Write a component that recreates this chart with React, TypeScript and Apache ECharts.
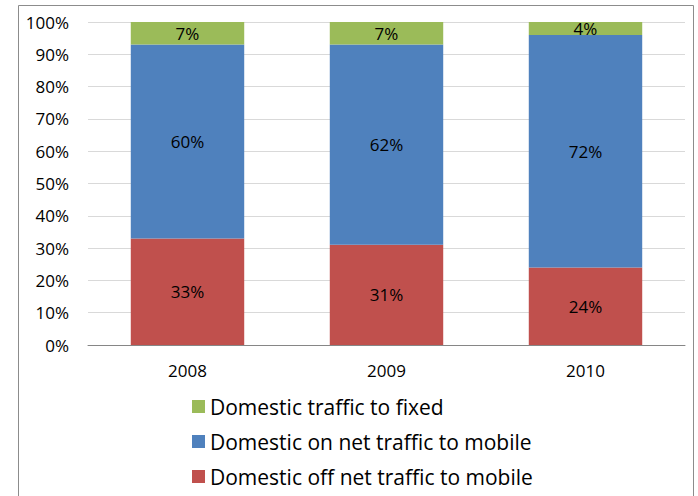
import React, { useEffect, useRef } from "react";
import * as echarts from "echarts";

const categories = ["2008", "2009", "2010"];
const offNetMobile = [33, 31, 24];
const onNetMobile = [60, 62, 72];
const fixedTraffic = [7, 7, 4];
const seriesNames = [
  "Domestic traffic to fixed",
  "Domestic on net traffic to mobile",
  "Domestic off net traffic to mobile",
];

const FONT = "'Open Sans', Lato, sans-serif";

export default function App() {
  const ref = useRef<HTMLDivElement>(null);
  useEffect(() => {
    if (!ref.current) return;
    const chart = echarts.init(ref.current, undefined, { renderer: "svg" });
    const label = {
      show: true,
      position: "inside" as const,
      formatter: "{c}%",
      color: "#000",
      fontSize: 17,
      fontFamily: FONT,
    };
    chart.setOption({
      animation: false,
      backgroundColor: "#fff",
      textStyle: { fontFamily: FONT },
      graphic: [
        {
          type: "rect",
          shape: { x: 18.5, y: 5.5, width: 675, height: 520 },
          style: { fill: "none", stroke: "#8c8c8c", lineWidth: 1 },
          silent: true,
          z: -1,
        },
      ],
      grid: { left: 88, right: 13, top: 22, bottom: 151, containLabel: false },
      legend: {
        orient: "vertical",
        left: 187,
        top: 391,
        itemWidth: 13,
        itemHeight: 13,
        itemGap: 14,
        icon: "rect",
        data: seriesNames,
        textStyle: { fontSize: 21, color: "#000", fontFamily: FONT },
      },
      xAxis: {
        type: "category",
        data: categories,
        axisLine: { lineStyle: { color: "#868686" } },
        axisTick: { show: false },
        axisLabel: { fontSize: 17, color: "#000", margin: 17, fontFamily: FONT },
      },
      yAxis: {
        type: "value",
        min: 0,
        max: 100,
        interval: 10,
        axisLabel: { formatter: "{value}%", fontSize: 17, color: "#000", margin: 19, fontFamily: FONT },
        splitLine: { lineStyle: { color: "#d9d9d9" } },
        axisLine: { show: false },
        axisTick: { show: false },
      },
      series: [
        {
          name: seriesNames[2],
          type: "bar",
          stack: "t",
          data: offNetMobile,
          barWidth: "57%",
          itemStyle: { color: "#C0504D" },
          label,
        },
        {
          name: seriesNames[1],
          type: "bar",
          stack: "t",
          data: onNetMobile,
          itemStyle: { color: "#4F81BD" },
          label,
        },
        {
          name: seriesNames[0],
          type: "bar",
          stack: "t",
          data: fixedTraffic,
          itemStyle: { color: "#9BBB59" },
          label,
        },
      ],
    });
    return () => chart.dispose();
  }, []);
  return (
    <div
      ref={ref}
      style={{ position: "fixed", left: 0, top: 0, width: 698, height: 496 }}
    />
  );
}
